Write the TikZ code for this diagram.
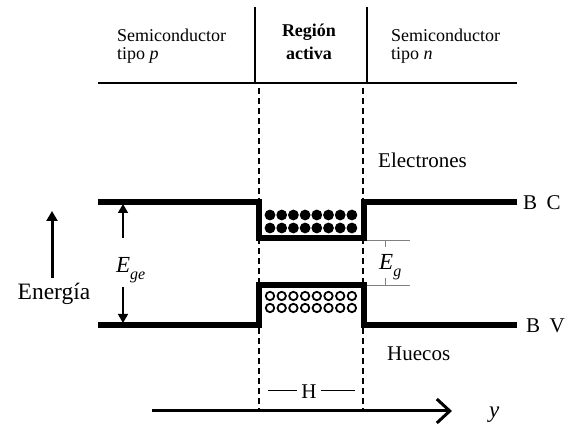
\documentclass[tikz,border=0pt]{standalone}
\usepackage{fontspec}
\setmainfont{Liberation Serif}
\usetikzlibrary{arrows.meta}
\newcommand{\symE}[1]{\textit{E}\raisebox{-0.28em}{\fontsize{16}{18}\selectfont\itshape #1}}
\begin{document}
\begin{tikzpicture}[x=1pt,y=-1pt,
  lbl/.style={inner sep=0pt,font=\fontsize{18}{20}\selectfont},
  big/.style={inner sep=0pt,font=\fontsize{21}{24}\selectfont},
  mth/.style={inner sep=0pt,font=\fontsize{23}{25}\selectfont},
  band/.style={line width=5.5pt,line join=miter},
  sep/.style={line width=2.3pt},
  dashline/.style={line width=2.2pt,dash pattern=on 6pt off 4pt},
  thinline/.style={line width=0.8pt,draw=gray},
  elec/.style={fill=black},
  hole/.style={draw=black,line width=1.8pt}]
\useasboundingbox (0,0) rectangle (571,427);
% header
\coordinate (tl) at (98,83); \coordinate (tr) at (517,83);
\draw[sep] (tl) -- (tr);
\coordinate (s1t) at (255,7); \coordinate (s1b) at (255,83);
\coordinate (s2t) at (367,7); \coordinate (s2b) at (367,83);
\draw[sep] (s1t) -- (s1b);
\draw[sep] (s2t) -- (s2b);
\node[lbl,anchor=base west] (p1) at (117,42) {Semiconductor};
\node[lbl,anchor=base west] (p2) at (117,60) {tipo \textit{p}};
\node[lbl,anchor=base,font=\fontsize{18}{20}\selectfont\bfseries] (r1) at (309,37) {Región};
\node[lbl,anchor=base,font=\fontsize{18}{20}\selectfont\bfseries] (r2) at (309,60) {activa};
\node[lbl,anchor=base west] (n1) at (391,42) {Semiconductor};
\node[lbl,anchor=base west] (n2) at (391,60) {tipo \textit{n}};
% dashed boundaries
\coordinate (d1t) at (259,88); \coordinate (d1b) at (259,412);
\coordinate (d2t) at (363,88); \coordinate (d2b) at (363,412);
\draw[dashline] (d1t) -- (d1b);
\draw[dashline] (d2t) -- (d2b);
% conduction band
\draw[band] (98,202) -- (259,202) -- (259,238) -- (364,238) -- (364,202) -- (517,202);
% valence band
\draw[band] (98,325) -- (259,325) -- (259,285) -- (364,285) -- (364,325) -- (517,325);
% electrons and holes
\foreach \i in {0,...,7}{
  \fill[elec] (270+11.7*\i,215) circle (5.4);
  \fill[elec] (270+11.7*\i,228) circle (5.4);
  \draw[hole] (270+11.7*\i,296) circle (4.2);
  \draw[hole] (270+11.7*\i,308) circle (4.2);
}
\node[big,anchor=base west] (bc) at (523,210) {B\hspace{0.45em}C};
\node[big,anchor=base west] (bv) at (526,333) {B\hspace{0.45em}V};
\node[big,anchor=base west] (el) at (378,168) {Electrones};
\node[big,anchor=base west] (hu) at (387,361) {Huecos};
% Eg
\coordinate (g1a) at (367,240); \coordinate (g1b) at (410,240);
\coordinate (g2a) at (367,285); \coordinate (g2b) at (410,285);
\coordinate (k1a) at (385,240); \coordinate (k1b) at (385,247);
\coordinate (k2a) at (385,278); \coordinate (k2b) at (385,285);
\draw[thinline] (g1a) -- (g1b);
\draw[thinline] (g2a) -- (g2b);
\draw[thinline] (k1a) -- (k1b);
\draw[thinline] (k2a) -- (k2b);
\node[mth,anchor=base west] (eg) at (379,270) {\symE{g}};
% Ege
\node[mth,anchor=base west] (ege) at (116,273) {\symE{ge}};
\coordinate (u1) at (123,238); \coordinate (u2) at (123,204);
\coordinate (w1) at (123,287); \coordinate (w2) at (123,323);
\draw[line width=1.6pt,-{Triangle[length=9pt,width=10pt]}] (u1) -- (u2);
\draw[line width=1.6pt,-{Triangle[length=9pt,width=10pt]}] (w1) -- (w2);
% Energia
\coordinate (ea) at (52,278); \coordinate (eb) at (52,211);
\draw[line width=3pt,-{Triangle[length=10pt,width=11pt]}] (ea) -- (eb);
\node[inner sep=0pt,anchor=base,font=\fontsize{23.5}{26}\selectfont] (en) at (54,300) {Energía};
% axis
\coordinate (ya) at (152,411); \coordinate (yb) at (452,411);
\draw[line width=3pt,-{Straight Barb[length=13pt,width=24pt,line width=3pt]}] (ya) -- (yb);
\node[mth,anchor=base west] (yl) at (489,418) {\textit{y}};
% H
\node[big] (h) at (309,392) {H};
\coordinate (h1) at (268,390); \coordinate (h4) at (355,390);
\draw[line width=0.9pt] (h1) -- ([xshift=-4pt]h.west |- h1);
\draw[line width=0.9pt] ([xshift=4pt]h.east |- h4) -- (h4);
\end{tikzpicture}
\end{document}
